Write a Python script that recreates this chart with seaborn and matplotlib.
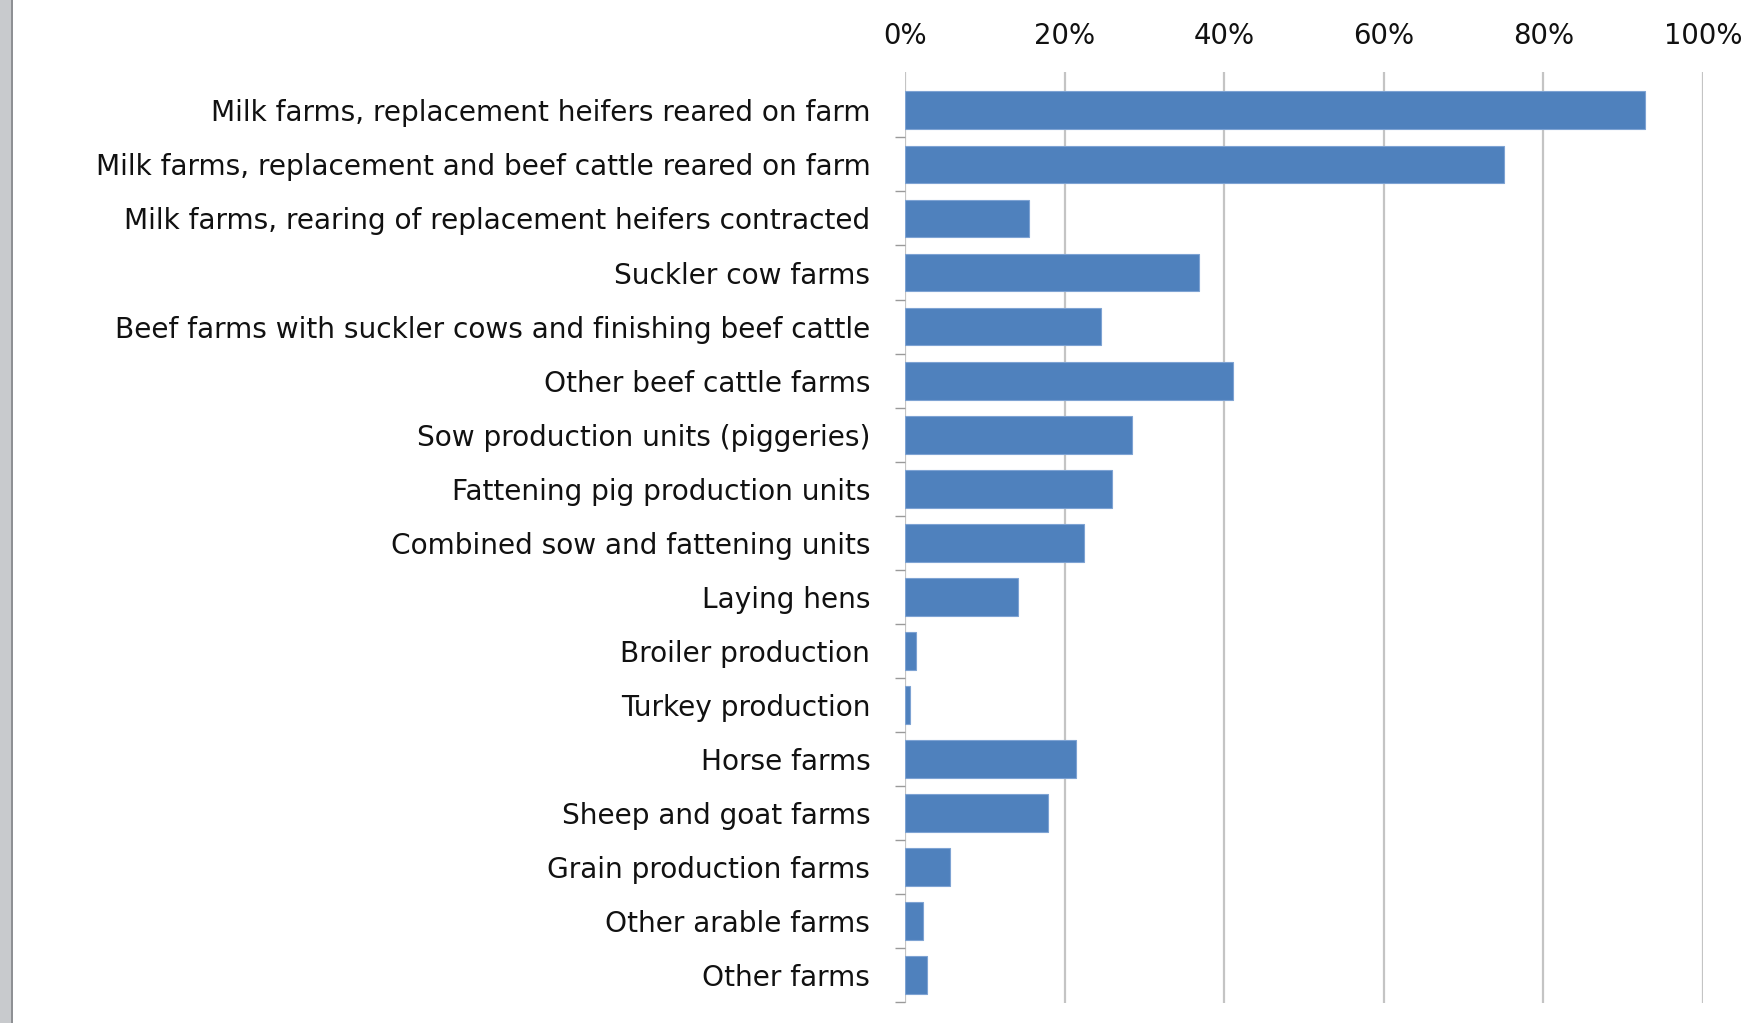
import matplotlib
matplotlib.use("Agg")
import matplotlib.pyplot as plt
import matplotlib.patches as mpatches
from matplotlib.ticker import PercentFormatter, FixedLocator
import seaborn as sns
import pandas as pd
import numpy as np

categories = [
    "Milk farms, replacement heifers reared on farm",
    "Milk farms, replacement and beef cattle reared on farm",
    "Milk farms, rearing of replacement heifers contracted",
    "Suckler cow farms",
    "Beef farms with suckler cows and finishing beef cattle",
    "Other beef cattle farms",
    "Sow production units (piggeries)",
    "Fattening pig production units",
    "Combined sow and fattening units",
    "Laying hens",
    "Broiler production",
    "Turkey production",
    "Horse farms",
    "Sheep and goat farms",
    "Grain production farms",
    "Other arable farms",
    "Other farms",
]
values = [0.927, 0.751, 0.155, 0.368, 0.245, 0.411, 0.284, 0.259, 0.224, 0.141,
          0.014, 0.006, 0.214, 0.179, 0.056, 0.023, 0.028]
x_ticks = [0.0, 0.2, 0.4, 0.6, 0.8, 1.0]

df = pd.DataFrame({"category": categories, "share": values})

sns.set_theme(style="white")
plt.rcParams["font.family"] = ["DejaVu Sans"]

W, H = 1760, 1023
fig = plt.figure(figsize=(W / 100, H / 100), dpi=100)
fig.patch.set_facecolor("white")

# decorative grey strip on the left edge (screenshot border)
fig.patches.append(mpatches.Rectangle((0, 0), 12 / W, 1, transform=fig.transFigure,
                                      facecolor="#c8cacd", edgecolor="none", zorder=0))
fig.patches.append(mpatches.Rectangle((11 / W, 0), 2 / W, 1, transform=fig.transFigure,
                                      facecolor="#8e9094", edgecolor="none", zorder=0))

ax = fig.add_axes([905 / W, 1 - 1002.7 / H, 798 / W, (1002.7 - 72) / H])

sns.barplot(data=df, y="category", x="share", orient="h", color="#4F81BD",
            saturation=1, width=0.70, edgecolor="#7ea3d3", linewidth=0.8,
            ax=ax, zorder=3)

ax.set_xlim(0, 1.0)
ax.set_ylim(16.51, -0.71)
ax.xaxis.set_major_locator(FixedLocator(x_ticks))
ax.xaxis.set_major_formatter(PercentFormatter(1.0, decimals=0))
ax.xaxis.tick_top()
ax.tick_params(axis="x", which="major", length=0, pad=16, labelsize=19.8,
               labelcolor="#111111")
ax.tick_params(axis="y", which="major", length=0, pad=25, labelsize=20.2,
               labelcolor="#111111")

# boundary tick marks between categories
ax.yaxis.set_minor_locator(FixedLocator(np.arange(0.5, len(categories) - 0.5 + 1, 1.0)))
ax.tick_params(axis="y", which="minor", length=7, width=1.0, color="#9a9a9a", left=True)

ax.set_xlabel("")
ax.set_ylabel("")
for s in ax.spines.values():
    s.set_visible(False)

ax.grid(axis="x", which="major", color="#c4c4c4", linewidth=1.6, zorder=0)
ax.grid(axis="y", visible=False)
ax.set_axisbelow(True)

fig.savefig("out.png", dpi=100, facecolor="white")
